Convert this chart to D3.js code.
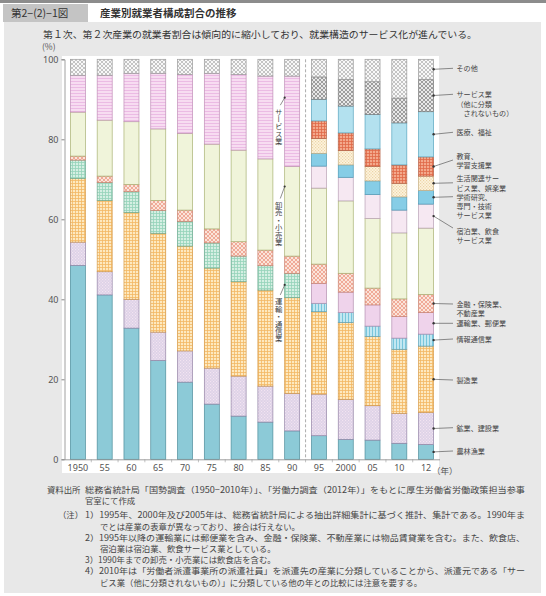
<!DOCTYPE html>
<html><head><meta charset="utf-8">
<script src="https://cdn.jsdelivr.net/npm/d3@7"></script>
<style>
body{margin:0;background:#fff;}
svg{display:block;font-family:"Noto Sans CJK JP","Noto Sans",sans-serif;}
</style></head><body>
<svg id="chart" width="546" height="596"></svg>
<script>
// ---------- DATA ----------
const years = ["1950","55","60","65","70","75","80","85","90","95","2000","05","10","12"];
const keys = ["agri","mining","manuf","transComm","info","transPost","finance","wholesale","lodging","academic","living","education","medical","serviceOld","serviceOther","other"];
const agri         = [48.5,41.1,32.8,24.7,19.3,13.8,10.8,9.3,7.1,5.9,5.0,4.8,4.0,3.7];
const mining       = [5.8,5.8,7.2,7.1,7.8,9.0,10.0,9.0,9.4,10.4,10.0,8.6,7.5,8.0];
const manuf        = [15.9,17.8,21.7,24.7,26.2,25.0,23.6,24.0,23.9,20.6,19.2,17.3,16.0,16.6];
const transComm    = [4.6,4.5,5.2,5.7,6.2,6.3,6.4,6.1,6.1,0,0,0,0,0];
const info         = [0,0,0,0,0,0,0,0,0,2.1,2.5,2.6,2.8,3.0];
const transPost    = [0,0,0,0,0,0,0,0,0,5.0,5.1,5.3,5.4,5.4];
const finance      = [1.0,1.6,1.8,2.5,2.8,3.5,3.6,3.9,4.3,4.8,4.7,4.2,4.4,4.5];
const wholesale    = [11.0,14.0,15.7,17.9,19.2,21.2,22.9,22.8,22.4,19.0,18.1,17.4,16.5,16.6];
const lodging      = [0,0,0,0,0,0,0,0,0,5.5,5.9,6.0,5.7,6.0];
const academic     = [0,0,0,0,0,0,0,0,0,3.2,3.1,3.4,3.3,3.4];
const living       = [0,0,0,0,0,0,0,0,0,3.7,3.6,3.6,3.4,3.6];
const education    = [0,0,0,0,0,0,0,0,0,4.4,4.4,4.4,4.6,4.8];
const medical      = [0,0,0,0,0,0,0,0,0,5.4,6.7,8.6,10.5,11.3];
const serviceOld   = [9.2,11.2,12.1,13.9,14.7,17.7,18.9,20.7,22.6,0,0,0,0,0];
const serviceOther = [0,0,0,0,0,0,0,0,0,5.6,6.7,8.2,6.2,8.1];
const other        = [4.0,4.0,3.5,3.5,3.8,3.5,3.8,4.2,4.2,4.4,5.0,5.6,9.7,5.0];
const yTicks = [0,20,40,60,80,100];

const legendKeys  = ["other","serviceOther","medical","education","living","academic","lodging","finance","transPost","info","manuf","mining","agri"];
const legendTexts = [["その他"],["サービス業","（他に分類","　されないもの）"],["医療、福祉"],["教育、","学習支援業"],["生活関連サー","ビス業、娯楽業"],["学術研究、","専門・技術","サービス業"],["宿泊業、飲食","サービス業"],["金融・保険業、","不動産業"],["運輸業、郵便業"],["情報通信業"],["製造業"],["鉱業、建設業"],["農林漁業"]];
const innerLabels = ["サービス業","卸売・小売業","運輸・通信業"];
const innerAt     = [90.4,68.2,43.6];

const title = "産業別就業者構成割合の推移";
const figNo = "第2−(2)−1図";
const subtitle = "第１次、第２次産業の就業者割合は傾向的に縮小しており、就業構造のサービス化が進んでいる。";
const notes = [
 ["資料出所","総務省統計局「国勢調査（1950−2010年）」、「労働力調査（2012年）」をもとに厚生労働省労働政策担当参事"],
 ["","官室にて作成"],
 ["（注）","1）1995年、2000年及び2005年は、総務省統計局による抽出詳細集計に基づく推計、集計である。1990年ま"],
 ["","でとは産業の表章が異なっており、接合は行えない。"],
 ["","2）1995年以降の運輸業には郵便業を含み、金融・保険業、不動産業には物品賃貸業を含む。また、飲食店、"],
 ["","宿泊業は宿泊業、飲食サービス業としている。"],
 ["","3）1990年までの卸売・小売業には飲食店を含む。"],
 ["","4）2010年は「労働者派遣事業所の派遣社員」を派遣先の産業に分類していることから、派遣元である「サー"],
 ["","ビス業（他に分類されないもの）」に分類している他の年との比較には注意を要する。"]
];

const seriesVals = {agri,mining,manuf,transComm,info,transPost,finance,wholesale,lodging,academic,living,education,medical,serviceOld,serviceOther,other};
const rows = years.map((yr,i)=>{const r={year:yr}; keys.forEach(k=>r[k]=seriesVals[k][i]); return r;});

// ---------- STYLE ----------
const sty = {
 agri:{type:"solid",base:"#8ccad7",stroke:"#4f8e9c"},
 mining:{type:"dots",base:"#ddd2e7",fg:"#f3e4f1",stroke:"#9484a6"},
 manuf:{type:"grid",base:"#fde9c0",fg:"#f3b764",stroke:"#d69a48"},
 transComm:{type:"grid",base:"#d5efe3",fg:"#95d3ba",stroke:"#6aa88e"},
 info:{type:"vlines",base:"#c2e7f1",fg:"#79c6dc",stroke:"#5aa0b8"},
 transPost:{type:"solid",base:"#efd3eb",stroke:"#b48fb0"},
 finance:{type:"cross",base:"#fbe4da",fg:"#ee9c88",stroke:"#c8806e"},
 wholesale:{type:"solid",base:"#f0f4da",stroke:"#a9b274"},
 lodging:{type:"solid",base:"#f6e8f2",stroke:"#b9a1b6"},
 academic:{type:"solid",base:"#86cde6",stroke:"#4c9ab6"},
 living:{type:"dots",base:"#fdf4de",fg:"#ecd3a6",stroke:"#c6ad80"},
 education:{type:"grid",base:"#f3a98c",fg:"#e06a48",stroke:"#b35e44"},
 medical:{type:"solid",base:"#b3e1ef",stroke:"#5aa6c0"},
 serviceOld:{type:"hlines",base:"#f7dcf1",fg:"#eab8e2",stroke:"#c08fb8"},
 serviceOther:{type:"cross",base:"#e8e8e8",fg:"#8a8a8a",stroke:"#7a7a7a"},
 other:{type:"cross",base:"#f8f8f8",fg:"#b6b6b6",stroke:"#9a9a9a"}
};
// label layout (first-line y of each legend label, in px)
const legendLabelY = [68.3,94.3,132.3,155.7,178.3,196.7,231,304,323.3,339,380,427.7,451];
const legendLeadY  = {education:160, lodging:228};

const svg = d3.select("#chart");
const defs = svg.append("defs");
keys.forEach(k=>{
  const s = sty[k]; if(s.type==="solid") return;
  const sz = s.type==="cross"?4:3;
  const p = defs.append("pattern").attr("id","p-"+k).attr("patternUnits","userSpaceOnUse").attr("width",sz).attr("height",sz);
  p.append("rect").attr("width",sz).attr("height",sz).attr("fill",s.base);
  if(s.type==="grid"){
    p.append("path").attr("d",`M0,0.5H${sz}M0.5,0V${sz}`).attr("stroke",s.fg).attr("stroke-width",0.8);
  } else if(s.type==="hlines"){
    p.append("path").attr("d",`M0,0.5H${sz}`).attr("stroke",s.fg).attr("stroke-width",0.9);
  } else if(s.type==="vlines"){
    p.append("path").attr("d",`M0.5,0V${sz}`).attr("stroke",s.fg).attr("stroke-width",1);
  } else if(s.type==="dots"){
    p.append("rect").attr("x",0).attr("y",0).attr("width",1.2).attr("height",1.2).attr("fill",s.fg);
    p.append("rect").attr("x",1.5).attr("y",1.5).attr("width",1.2).attr("height",1.2).attr("fill",s.fg);
  } else if(s.type==="cross"){
    p.append("path").attr("d","M0,0L4,4M4,0L0,4").attr("stroke",s.fg).attr("stroke-width",0.8);
  }
});
const fillOf = k => sty[k].type==="solid" ? sty[k].base : `url(#p-${k})`;

// ---------- FRAME ----------
svg.append("rect").attr("x",0).attr("y",0).attr("width",546).attr("height",3).attr("fill","#8c8c8c");
svg.append("rect").attr("x",4).attr("y",22).attr("width",537).attr("height",571).attr("fill","#e8e8e8");
svg.append("rect").attr("x",3).attr("y",4).attr("width",85).attr("height",18).attr("fill","#c4c4c4");
svg.append("text").attr("x",11).attr("y",17).attr("font-size",10.5).attr("fill","#333").text(figNo);
svg.append("text").attr("x",100).attr("y",17).attr("font-size",10.5).attr("font-weight","bold").attr("fill","#333").text(title);
svg.append("text").attr("x",43).attr("y",37.5).attr("font-size",9.6).attr("fill","#333")
  .attr("textLength",434).attr("lengthAdjust","spacingAndGlyphs").text(subtitle);
svg.append("text").attr("x",42).attr("y",50).attr("font-size",8.5).attr("fill","#555").text("(%)");

// ---------- SCALES ----------
const x = d3.scaleBand().domain(years).range([64.5,439.5]).paddingInner(0.44).paddingOuter(0.22);
const y = d3.scaleLinear().domain([0,100]).range([459.3,59.3]);
const bw = x.bandwidth();

svg.append("rect").attr("x",62).attr("y",56).attr("width",377).attr("height",417).attr("fill","#fff");

// ---------- BARS ----------
const stacked = d3.stack().keys(keys)(rows);
const g = svg.append("g");
stacked.forEach(ser=>{
  g.selectAll(null).data(ser.filter(d=>d[1]-d[0]>0)).enter().append("rect")
   .attr("x",d=>x(d.data.year)).attr("width",bw)
   .attr("y",d=>y(d[1])).attr("height",d=>y(d[0])-y(d[1]))
   .attr("fill",fillOf(ser.key)).attr("stroke",sty[ser.key].stroke).attr("stroke-width",0.7);
});

// separator between 1990 and 1995
const sepX = (x("90")+bw+x("95"))/2;
svg.append("line").attr("x1",sepX).attr("x2",sepX).attr("y1",y(100)).attr("y2",y(0))
  .attr("stroke","#888").attr("stroke-width",0.7).attr("stroke-dasharray","3,2");

// ---------- AXES ----------
const ya = svg.append("g").attr("transform","translate(64.5,0)")
  .call(d3.axisLeft(y).tickValues(yTicks).tickSize(3).tickPadding(3));
ya.select(".domain").attr("stroke","#888").attr("stroke-width",0.8);
ya.selectAll(".tick line").attr("stroke","#888");
ya.selectAll("text").attr("font-size",9).attr("fill","#555").attr("font-family","'Noto Sans','DejaVu Sans',sans-serif");

const xa = svg.append("g").attr("transform",`translate(0,${y(0)})`)
  .call(d3.axisBottom(x).tickSize(0).tickPadding(5));
xa.select(".domain").attr("stroke","#888").attr("stroke-width",0.8);
xa.selectAll("text").attr("font-size",9).attr("fill","#555").attr("font-family","'Noto Sans','DejaVu Sans',sans-serif");
years.slice(1).forEach(yr=>{
  const bx = x(yr) - x.step()*x.paddingInner()/2;
  svg.append("line").attr("x1",bx).attr("x2",bx).attr("y1",y(0)).attr("y2",y(0)+3).attr("stroke","#999").attr("stroke-width",0.6);
});
svg.append("text").attr("x",x("12")+bw/2+6).attr("y",y(0)+14.5).attr("font-size",8.5).attr("fill","#555").text("（年）");

// ---------- INNER VERTICAL LABELS ----------
const lx = x("90");
const gapC = lx - x.step()*x.paddingInner()/2;
const innerGap = [10.5,15,13];
innerLabels.forEach((t,i)=>{
  const dy = y(innerAt[i]);
  svg.append("circle").attr("cx",lx).attr("cy",dy).attr("r",1.1).attr("fill","#333");
  svg.append("line").attr("x1",lx).attr("y1",dy).attr("x2",gapC+1.5).attr("y2",dy+innerGap[i]-3).attr("stroke","#444").attr("stroke-width",0.6);
  svg.append("text").attr("x",gapC).attr("y",dy+innerGap[i]).attr("font-size",7.4).attr("fill","#444")
    .style("writing-mode","vertical-rl").style("text-orientation","upright").text(t);
});

// ---------- LEGEND ----------
const stackLast = {};
stacked.forEach(s=>{ const d=s[s.length-1]; stackLast[s.key]=(d[0]+d[1])/2; });
const bx1 = x("12")+bw;
legendKeys.forEach((k,i)=>{
  const dy = y(stackLast[k]);
  const ly = legendLabelY[i];
  const leadY = legendLeadY[k]!==undefined ? legendLeadY[k] : (legendTexts[i].length===2 && k==="living" ? ly+4.5 : ly);
  svg.append("circle").attr("cx",bx1).attr("cy",dy).attr("r",1.2).attr("fill","#333");
  svg.append("line").attr("x1",bx1).attr("y1",dy).attr("x2",453).attr("y2",leadY).attr("stroke","#444").attr("stroke-width",0.6);
  legendTexts[i].forEach((ln,j)=>{
    svg.append("text").attr("x",456.5).attr("y",ly+j*9.2).attr("dominant-baseline","central")
      .attr("font-size",7.1).attr("fill","#444").text(ln);
  });
});

// ---------- NOTES ----------
const noteY0 = 489, noteGap = 11.2;
notes.forEach((n,i)=>{
  const yy = noteY0 + i*noteGap + (i>=2?3:0);
  if(n[0]) svg.append("text").attr("x", i===0?47:58).attr("y",yy).attr("dominant-baseline","central").attr("font-size",8.4).attr("fill","#444").text(n[0]);
  const indent = (i===0||i===1||i===2||i===4||i===6||i===7) ? 85 : 100;
  const t = svg.append("text").attr("x",indent).attr("y",yy).attr("dominant-baseline","central").attr("font-size",8.4).attr("fill","#444").text(n[1]);
  if(i===0||i===2||i===4||i===7) t.attr("textLength",525-indent).attr("lengthAdjust","spacingAndGlyphs");
});
</script>
</body></html>
